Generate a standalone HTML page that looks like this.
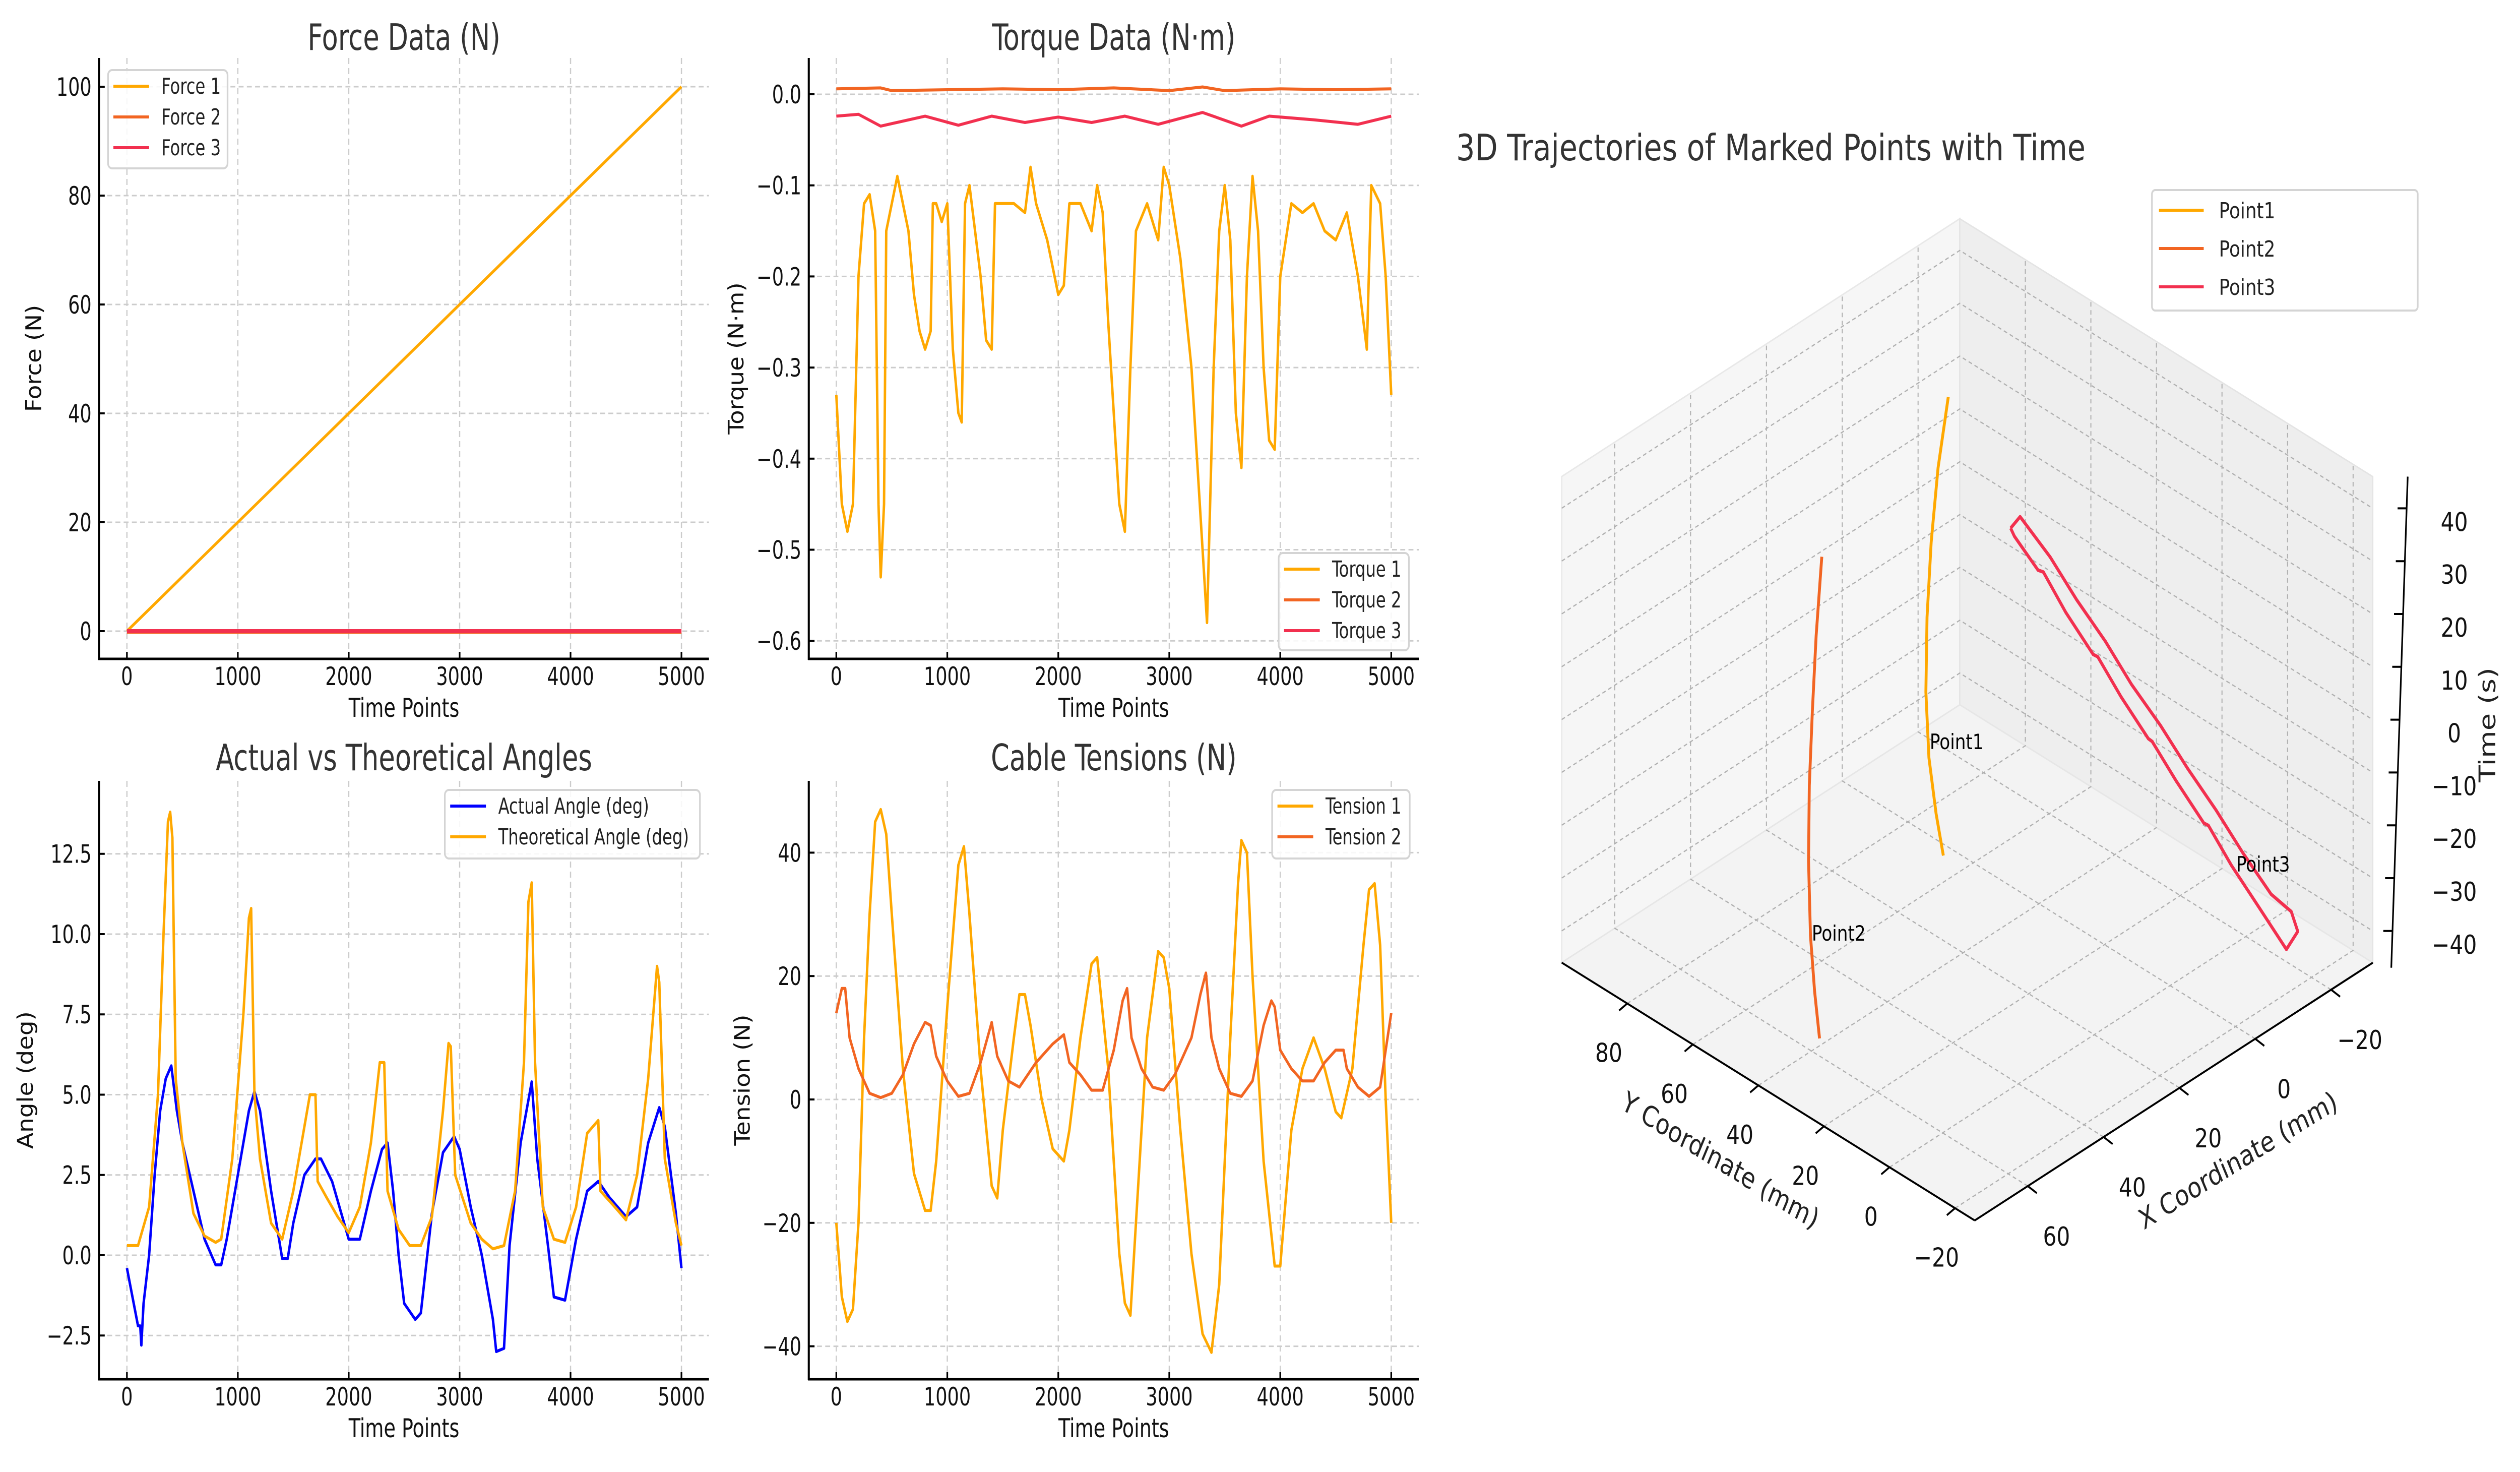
<!DOCTYPE html>
<html><head><meta charset="utf-8"><title>Sensor data dashboard</title>
<style>
html,body{margin:0;padding:0;background:#fff;overflow:hidden;width:100%;height:100%;}
svg{display:block;width:100vw;height:100vh;}
.cond{font-family:"DejaVu Sans Condensed","Liberation Sans Narrow","DejaVu Sans",sans-serif;}
.dj{font-family:"DejaVu Sans","Liberation Sans",sans-serif;}
</style></head>
<body>
<svg id="fig" xmlns="http://www.w3.org/2000/svg" viewBox="0 0 6135 2920" preserveAspectRatio="none">
<rect x="0" y="0" width="6135" height="2920" fill="#ffffff"/>
</svg>
<script>
// ---------- DATA ----------
const timeTicks=[0,1000,2000,3000,4000,5000];
const force1=[[0,0],[5000,100]];
const force2=[[0,-0.2],[5000,-0.2]];
const force3=[[0,0],[5000,0]];
const forceTicks=[0,20,40,60,80,100];
const torque1=[[0,-0.33],[50,-0.45],[100,-0.48],[150,-0.45],[200,-0.2],[250,-0.12],[300,-0.11],[350,-0.15],[380,-0.45],[400,-0.53],[430,-0.45],[450,-0.15],[500,-0.12],[550,-0.09],[600,-0.12],[650,-0.15],[700,-0.22],[750,-0.26],[800,-0.28],[850,-0.26],[870,-0.12],[900,-0.12],[950,-0.14],[1000,-0.12],[1050,-0.28],[1100,-0.35],[1130,-0.36],[1160,-0.12],[1200,-0.10],[1250,-0.15],[1300,-0.2],[1350,-0.27],[1400,-0.28],[1430,-0.12],[1500,-0.12],[1600,-0.12],[1700,-0.13],[1750,-0.08],[1800,-0.12],[1900,-0.16],[2000,-0.22],[2050,-0.21],[2100,-0.12],[2200,-0.12],[2300,-0.15],[2350,-0.1],[2400,-0.13],[2450,-0.25],[2550,-0.45],[2600,-0.48],[2650,-0.3],[2700,-0.15],[2800,-0.12],[2900,-0.16],[2950,-0.08],[3000,-0.1],[3100,-0.18],[3200,-0.3],[3300,-0.5],[3340,-0.58],[3400,-0.3],[3450,-0.15],[3500,-0.1],[3550,-0.16],[3600,-0.35],[3650,-0.41],[3700,-0.2],[3750,-0.09],[3800,-0.15],[3850,-0.3],[3900,-0.38],[3950,-0.39],[4000,-0.2],[4100,-0.12],[4200,-0.13],[4300,-0.12],[4400,-0.15],[4500,-0.16],[4600,-0.13],[4700,-0.2],[4780,-0.28],[4820,-0.1],[4900,-0.12],[4950,-0.2],[5000,-0.33]];
const torque2=[[0,0.006],[400,0.007],[500,0.004],[1000,0.005],[1500,0.006],[2000,0.005],[2500,0.007],[3000,0.004],[3300,0.008],[3500,0.004],[4000,0.006],[4500,0.005],[5000,0.006]];
const torque3=[[0,-0.024],[200,-0.022],[400,-0.035],[800,-0.024],[1100,-0.034],[1400,-0.024],[1700,-0.031],[2000,-0.025],[2300,-0.031],[2600,-0.024],[2900,-0.033],[3300,-0.02],[3650,-0.035],[3900,-0.024],[4300,-0.028],[4700,-0.033],[5000,-0.024]];
const torqueTicks=[0,-0.1,-0.2,-0.3,-0.4,-0.5,-0.6];
const torqueLabels=["0.0","−0.1","−0.2","−0.3","−0.4","−0.5","−0.6"];
const angleTheo=[[0,0.3],[100,0.3],[200,1.5],[280,5],[330,10],[370,13.5],[390,13.8],[410,13],[440,5.5],[500,3.5],[600,1.3],[700,0.6],[800,0.4],[850,0.5],[950,3],[1050,7.5],[1100,10.5],[1120,10.8],[1150,5],[1200,3],[1300,1],[1400,0.5],[1500,2],[1600,4],[1650,5],[1700,5],[1720,2.3],[1800,1.8],[1900,1.2],[2000,0.7],[2100,1.5],[2200,3.5],[2280,6],[2320,6],[2350,2],[2450,0.8],[2550,0.3],[2650,0.3],[2750,1.2],[2850,4.5],[2900,6.6],[2920,6.5],[2960,2.5],[3100,1],[3200,0.5],[3300,0.2],[3400,0.3],[3500,2],[3580,6],[3620,11],[3650,11.6],[3680,6],[3750,1.5],[3850,0.5],[3950,0.4],[4050,1.5],[4150,3.8],[4250,4.2],[4270,2],[4400,1.5],[4500,1.1],[4600,2.5],[4700,5.5],[4780,9],[4800,8.5],[4850,3],[4950,1],[5000,0.3]];
const angleActual=[[0,-0.4],[50,-1.3],[100,-2.2],[120,-2.2],[130,-2.8],[150,-1.5],[200,0],[250,2.5],[300,4.5],[350,5.5],[400,5.9],[450,4.5],[500,3.5],[600,2],[700,0.5],[800,-0.3],[850,-0.3],[900,0.5],[1000,2.5],[1100,4.5],[1150,5.1],[1200,4.5],[1300,2],[1400,-0.1],[1450,-0.1],[1500,1],[1600,2.5],[1700,3],[1750,3],[1850,2.3],[2000,0.5],[2100,0.5],[2200,2],[2300,3.3],[2350,3.5],[2400,2],[2450,0],[2500,-1.5],[2600,-2],[2650,-1.8],[2750,1.3],[2850,3.2],[2950,3.7],[3000,3.3],[3100,1.5],[3200,0],[3300,-2],[3330,-3],[3400,-2.9],[3450,0.3],[3550,3.5],[3650,5.4],[3700,3],[3800,0.2],[3850,-1.3],[3950,-1.4],[4050,0.5],[4150,2],[4250,2.3],[4350,1.8],[4500,1.2],[4600,1.5],[4700,3.5],[4800,4.6],[4850,4],[4950,1.3],[5000,-0.4]];
const angleTicks=[-2.5,0,2.5,5,7.5,10,12.5];
const angleLabels=["−2.5","0.0","2.5","5.0","7.5","10.0","12.5"];
const tension1=[[0,-20],[50,-32],[100,-36],[150,-34],[200,-20],[250,10],[300,30],[350,45],[400,47],[450,43],[500,30],[600,5],[700,-12],[800,-18],[850,-18],[900,-10],[1000,15],[1100,38],[1150,41],[1200,30],[1300,5],[1400,-14],[1450,-16],[1500,-5],[1600,10],[1650,17],[1700,17],[1750,12],[1850,0],[1950,-8],[2050,-10],[2100,-5],[2200,10],[2300,22],[2350,23],[2450,5],[2550,-25],[2600,-33],[2650,-35],[2700,-20],[2800,10],[2900,24],[2950,23],[3000,18],[3100,-5],[3200,-25],[3300,-38],[3380,-41],[3450,-30],[3550,10],[3620,35],[3650,42],[3700,40],[3750,20],[3850,-10],[3950,-27],[4000,-27],[4100,-5],[4200,5],[4300,10],[4400,5],[4500,-2],[4550,-3],[4650,5],[4750,25],[4800,34],[4850,35],[4900,25],[4950,0],[5000,-20]];
const tension2=[[0,14],[50,18],[80,18],[120,10],[200,5],[300,1],[400,0.3],[500,1],[600,4],[700,9],[800,12.5],[850,12],[900,7],[1000,3],[1100,0.5],[1200,1],[1300,6],[1400,12.5],[1450,7],[1550,3],[1650,2],[1800,6],[1950,9],[2050,10.5],[2100,6],[2200,4],[2300,1.5],[2400,1.5],[2500,8],[2580,16],[2620,18],[2660,10],[2750,5],[2850,2],[2950,1.5],[3050,4],[3200,10],[3280,17],[3330,20.5],[3380,10],[3450,5],[3550,1],[3650,0.5],[3750,3],[3850,12],[3920,16],[3950,15],[4000,8],[4100,5],[4200,3],[4300,3],[4400,6],[4500,8],[4570,8],[4600,5],[4700,2],[4800,0.5],[4900,2],[5000,14]];
const tensionTicks=[-40,-20,0,20,40];
const tensionLabels=["−40","−20","0","20","40"];
// 3D trajectories [X(mm), Y(mm), time(s)]
const point1=[[2.3,65,41.3],[5.0,65,29.1],[6.8,65,15.9],[7.9,65,2.2],[8.2,65,-11.8],[7.4,65,-24.6],[5.5,65,-36.1],[3.6,65,-44.9]];
const point2=[[56.4,41,45.5],[57.9,41,31.2],[58.9,41,17.4],[59.7,41,3.7],[59.9,41,-10.4],[59.4,41,-24.8],[58.3,41,-35.9],[57.0,41,-45.4]];
const point3=[[20.0,25.5,40],[19.0,25.5,38],[16.4,21.3,32],[15.0,21.3,31],[12.8,17.0,24],[9.2,12.8,16],[8.0,12.8,15],[5.6,8.5,8],[2.0,4.3,0],[1.0,4.3,-1],[-1.6,0.0,-8],[-5.2,-4.3,-16],[-6.4,-4.3,-17],[-8.8,-8.5,-24],[-12.4,-12.8,-32],[-16.0,-17.0,-40],[-19.0,-17.0,-38],[-19.0,-15,-35],[-15.6,-12.8,-31],[-11.8,-8.5,-23],[-8.4,-4.3,-15],[-4.6,0.0,-7],[-1.2,4.3,1],[2.8,8.5,9],[6.0,12.8,17],[9.9,17.0,25],[13.2,21.3,33],[17.5,25.5,41],[20.0,25.5,40]];
const xTicks3d=[-20,0,20,40,60];
const yTicks3d=[-20,0,20,40,60,80];
const zTicks3d=[-40,-30,-20,-10,0,10,20,30,40];

// ---------- HELPERS ----------
const NS='http://www.w3.org/2000/svg';
const svg=document.getElementById('fig');
function mk(tag,attrs,parent){const e=document.createElementNS(NS,tag);for(const k in attrs)e.setAttribute(k,attrs[k]);(parent||svg).appendChild(e);return e;}
function fmtMinus(v){return String(v).replace('-','−');}
const C1='#FFA800',C2='#F26522',C3='#F2304F';

function drawPanel(p){
  const g=mk('g',{class:'cond'});
  
  
  timeTicks.forEach(t=>{
    const l=mk('line',{x1:p.xs(t),x2:p.xs(t),y1:p.top,y2:p.bottom,stroke:'#cccccc','stroke-width':3,'stroke-dasharray':'12,8'},g);
    
    
  });
  p.yticks.forEach(v=>{
    const l=mk('line',{x1:p.left,x2:p.right,y1:p.ys(v),y2:p.ys(v),stroke:'#cccccc','stroke-width':3,'stroke-dasharray':'12,8'},g);
    
    
  });
  p.series.forEach(s=>{
    const pts=s.data.map(d=>p.xs(d[0]).toFixed(1)+','+p.ys(d[1]).toFixed(1)).join(' ');
    const pl=mk('polyline',{points:pts,fill:'none',stroke:s.color,'stroke-width':s.w||6,'stroke-linejoin':'round'},g);
    
    
  });
  const sl=mk('line',{x1:p.left,x2:p.left,y1:p.top,y2:p.bottom+2,stroke:'#000','stroke-width':5},g);
  
  
  const sb=mk('line',{x1:p.left-2,x2:p.right,y1:p.bottom,y2:p.bottom,stroke:'#000','stroke-width':5},g);
  
  
  timeTicks.forEach(t=>{
    const tk=mk('line',{x1:p.xs(t),x2:p.xs(t),y1:p.bottom,y2:p.bottom-14,stroke:'#000','stroke-width':4},g);
    
    
    const tx=mk('text',{x:p.xs(t),y:p.bottom+52,'font-size':50,'text-anchor':'middle',fill:'#111'},g);
    tx.textContent=String(t);
    
    
  });
  p.yticks.forEach((v,i)=>{
    const tk=mk('line',{x1:p.left,x2:p.left+14,y1:p.ys(v),y2:p.ys(v),stroke:'#000','stroke-width':4},g);
    
    
    const tx=mk('text',{x:p.left-18,y:p.ys(v)+18,'font-size':50,'text-anchor':'end',fill:'#111'},g);
    tx.textContent=p.ylabels[i];
    
    
  });
  const tt=mk('text',{x:(p.left+p.right)/2,y:p.titleY+25,'font-size':72,'text-anchor':'middle',fill:'#333'},g);
  tt.textContent=p.title;
  
  
  const xl=mk('text',{x:(p.left+p.right)/2,y:p.bottom+115,'font-size':52,'text-anchor':'middle',fill:'#111'},g);
  xl.textContent='Time Points';
  
  
  const yc=(p.top+p.bottom)/2;
  const yl=mk('text',{x:p.ylabX,y:yc,'font-size':52,'text-anchor':'middle',fill:'#111',transform:'rotate(-90 '+p.ylabX+' '+yc+')'},g);
  yl.textContent=p.ylabel;
  
  
  const L=p.legend;
  const lg=mk('g',{},g);
  
  
  mk('rect',{x:L.x,y:L.y,width:L.w,height:L.h,rx:10,fill:'#fff','fill-opacity':0.85,stroke:'#d4d4d4','stroke-width':4},lg);
  p.series.forEach((s,i)=>{
    const yy=L.y+32+i*61;
    const ll=mk('line',{x1:L.x+13,x2:L.x+100,y1:yy,y2:yy,stroke:s.color,'stroke-width':6},lg);
    
    
    const lt=mk('text',{x:L.x+130,y:yy+15,'font-size':44,fill:'#222'},lg);
    lt.textContent=s.label;
    
    
  });
}

const xsL=v=>309+v*0.27, xsR=v=>2036+v*0.2702;
drawPanel({name:'force',left:241,right:1726,top:115,bottom:1307,xs:xsL,ys:v=>1252-v*10.8,yticks:forceTicks,ylabels:forceTicks.map(String),title:'Force Data (N)',titleY:74,ylabel:'Force (N)',ylabX:100,
  series:[{name:'force-1',label:'Force 1',data:force1,color:C1},{name:'force-2',label:'Force 2',data:force2,color:C2},{name:'force-3',label:'Force 3',data:force3,color:C3,w:8}],
  legend:{x:263,y:139,w:291,h:195}});
drawPanel({name:'torque',left:1969,right:3454,top:115,bottom:1307,xs:xsR,ys:v=>187-v*1807,yticks:torqueTicks,ylabels:torqueLabels,title:'Torque Data (N·m)',titleY:74,ylabel:'Torque (N·m)',ylabX:1810,
  series:[{name:'torque-1',label:'Torque 1',data:torque1,color:C1},{name:'torque-2',label:'Torque 2',data:torque2,color:C2},{name:'torque-3',label:'Torque 3',data:torque3,color:C3}],
  legend:{x:3113,y:1097,w:317,h:193}});
drawPanel({name:'angle',left:241,right:1726,top:1549,bottom:2736,xs:xsL,ys:v=>2490-v*63.7,yticks:angleTicks,ylabels:angleLabels,title:'Actual vs Theoretical Angles',titleY:1503,ylabel:'Angle (deg)',ylabX:80,
  series:[{name:'actual-angle',label:'Actual Angle (deg)',data:angleActual,color:'#0000FF'},{name:'theoretical-angle',label:'Theoretical Angle (deg)',data:angleTheo,color:C1}],
  legend:{x:1083,y:1567,w:621,h:136}});
drawPanel({name:'tension',left:1969,right:3454,top:1549,bottom:2736,xs:xsR,ys:v=>2181-v*12.24,yticks:tensionTicks,ylabels:tensionLabels,title:'Cable Tensions (N)',titleY:1503,ylabel:'Tension (N)',ylabX:1825,
  series:[{name:'tension-1',label:'Tension 1',data:tension1,color:C1},{name:'tension-2',label:'Tension 2',data:tension2,color:C2}],
  legend:{x:3097,y:1567,w:335,h:136}});

// ---------- 3D ----------
const XMIN=-31,XMAX=74,YMIN=-26,YMAX=100,ZMIN=-46,ZMAX=46;
function P(X,Y,Z){return [5283-9.23*X-7.98*Y, 1473+4.87*X-4.06*Y-10.48*Z];}
function pstr(a){return a.map(q=>{const s=P(q[0],q[1],q[2]);return s[0].toFixed(1)+','+s[1].toFixed(1);}).join(' ');}
const g3=mk('g',{class:'dj'});


const paneL=mk('polygon',{points:pstr([[XMAX,YMAX,ZMIN],[XMIN,YMAX,ZMIN],[XMIN,YMAX,ZMAX],[XMAX,YMAX,ZMAX]]),fill:'#f6f6f6',stroke:'#e8e8e8','stroke-width':3},g3);


const paneR=mk('polygon',{points:pstr([[XMIN,YMAX,ZMIN],[XMIN,YMIN,ZMIN],[XMIN,YMIN,ZMAX],[XMIN,YMAX,ZMAX]]),fill:'#eeeeee',stroke:'#e4e4e4','stroke-width':3},g3);


const paneF=mk('polygon',{points:pstr([[XMAX,YMIN,ZMIN],[XMAX,YMAX,ZMIN],[XMIN,YMAX,ZMIN],[XMIN,YMIN,ZMIN]]),fill:'#f3f3f3',stroke:'#e6e6e6','stroke-width':3},g3);


const gs={fill:'none',stroke:'#b0b0b0','stroke-width':2.5,'stroke-dasharray':'9,7'};
xTicks3d.forEach(x=>{
  const l=mk('polyline',Object.assign({points:pstr([[x,YMIN,ZMIN],[x,YMAX,ZMIN],[x,YMAX,ZMAX]])},gs),g3);
  
  
});
yTicks3d.forEach(y=>{
  const l=mk('polyline',Object.assign({points:pstr([[XMAX,y,ZMIN],[XMIN,y,ZMIN],[XMIN,y,ZMAX]])},gs),g3);
  
  
});
zTicks3d.forEach(z=>{
  const l=mk('polyline',Object.assign({points:pstr([[XMAX,YMAX,z],[XMIN,YMAX,z],[XMIN,YMIN,z]])},gs),g3);
  
  
});
const ya=mk('polyline',{points:pstr([[XMAX,YMAX,ZMIN],[XMAX,YMIN,ZMIN]]),stroke:'#000','stroke-width':4,fill:'none'},g3);


const xa=mk('polyline',{points:pstr([[XMAX,YMIN,ZMIN],[XMIN,YMIN,ZMIN]]),stroke:'#000','stroke-width':4,fill:'none'},g3);


const zb=P(XMIN,YMIN,ZMIN), zt=P(XMIN,YMIN,ZMAX);
const za=mk('line',{x1:zb[0]+45,y1:zb[1]+10,x2:zt[0]+85,y2:zt[1],stroke:'#000','stroke-width':4},g3);


yTicks3d.forEach(y=>{
  const s=P(XMAX,y,ZMIN);
  const tk=mk('line',{x1:s[0],y1:s[1],x2:s[0]-20,y2:s[1]+14,stroke:'#000','stroke-width':4},g3);
  
  
  const t=mk('text',{x:s[0]-45,y:s[1]+98+18,'font-size':52,'text-anchor':'middle',fill:'#111'},g3);
  t.textContent=fmtMinus(y);
  
  
});
xTicks3d.forEach(x=>{
  const s=P(x,YMIN,ZMIN);
  const tk=mk('line',{x1:s[0],y1:s[1],x2:s[0]+22,y2:s[1]+14,stroke:'#000','stroke-width':4},g3);
  
  
  const t=mk('text',{x:s[0]+70,y:s[1]+100+18,'font-size':52,'text-anchor':'middle',fill:'#111'},g3);
  t.textContent=fmtMinus(x);
  
  
});
zTicks3d.forEach(z=>{
  const s=P(XMIN,YMIN,z);
  const f=(z-ZMIN)/(ZMAX-ZMIN);
  const ax=s[0]+45+40*f;
  const tk=mk('line',{x1:ax-22,y1:s[1],x2:ax,y2:s[1],stroke:'#000','stroke-width':4},g3);
  
  
  const t=mk('text',{x:5975,y:s[1]+27+18,'font-size':52,'text-anchor':'middle',fill:'#111'},g3);
  t.textContent=fmtMinus(z);
  
  
});
const yt=mk('text',{x:4180,y:2319,'font-size':56,'text-anchor':'middle',fill:'#222',transform:'rotate(27 4180 2319)'},g3);
yt.textContent='Y Coordinate (mm)';


const xt=mk('text',{x:5457,y:2319,'font-size':56,'text-anchor':'middle',fill:'#222',transform:'rotate(-27 5457 2319)'},g3);
xt.textContent='X Coordinate (mm)';


const ztt=mk('text',{x:6075,y:1438,'font-size':56,'text-anchor':'middle',fill:'#222',transform:'rotate(-90 6075 1438)'},g3);
ztt.textContent='Time (s)';


[[point1,C1,'point1'],[point2,C2,'point2'],[point3,C3,'point3']].forEach(a=>{
  const pl=mk('polyline',{points:pstr(a[0]),fill:'none',stroke:a[1],'stroke-width':7,'stroke-linejoin':'round'},g3);
  
  
});
[['Point1',4698,1471],['Point2',4411,1851],['Point3',5444,1714]].forEach(a=>{
  const t=mk('text',{x:a[1],y:a[2]+15,'font-size':42,fill:'#000'},g3);
  t.textContent=a[0];
  
  
});
const t3=mk('text',{x:3545,y:318,'font-size':72,fill:'#333'},g3);
t3.textContent='3D Trajectories of Marked Points with Time';


const lg3=mk('g',{},g3);


mk('rect',{x:5239,y:377,width:647,height:239,rx:8,fill:'#fff',stroke:'#d4d4d4','stroke-width':4},lg3);
[['Point1',C1],['Point2',C2],['Point3',C3]].forEach((a,i)=>{
  const yy=417+i*76;
  const l=mk('line',{x1:5256,x2:5365,y1:yy,y2:yy,stroke:a[1],'stroke-width':6},lg3);
  
  
  const t=mk('text',{x:5402,y:yy+16,'font-size':44,fill:'#222'},lg3);
  t.textContent=a[0];
  
  
});
</script>
</body></html>
